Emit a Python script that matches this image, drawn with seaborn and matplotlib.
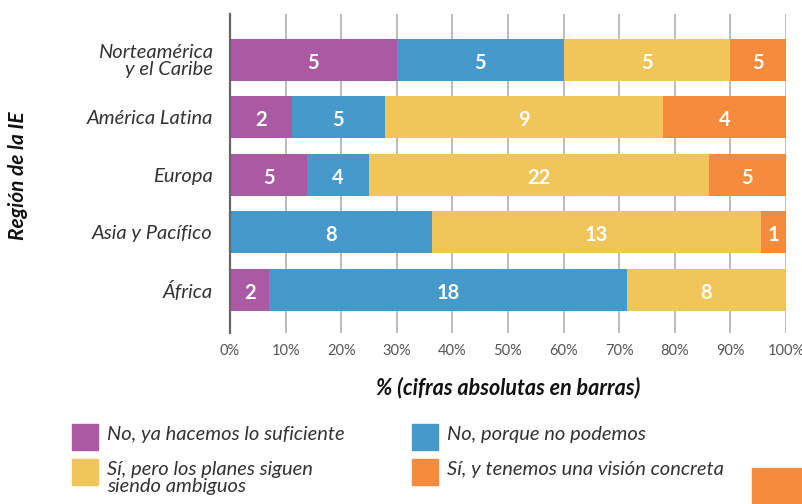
import numpy as np
import pandas as pd
import matplotlib.pyplot as plt
from matplotlib.patches import Rectangle
import seaborn as sns

# data (bar widths in %, labels are the printed counts)
regions = ["Norteamérica\ny el Caribe", "América Latina", "Europa", "Asia y Pacífico", "África"]
series = ["No, ya hacemos lo suficiente", "No, porque no podemos",
          "Sí, pero los planes siguen\nsiendo ambiguos", "Sí, y tenemos una visión concreta"]
pct_no_suficiente = [30.0, 11.1, 13.9, 0.0, 7.1]
pct_no_podemos = [30.0, 16.7, 11.1, 36.4, 64.3]
pct_si_ambiguos = [30.0, 50.0, 61.1, 59.1, 28.6]
pct_si_concreta = [10.0, 22.2, 13.9, 4.5, 0.0]
lbl_no_suficiente = ["5", "2", "5", "", "2"]
lbl_no_podemos = ["5", "5", "4", "8", "18"]
lbl_si_ambiguos = ["5", "9", "22", "13", "8"]
lbl_si_concreta = ["5", "4", "5", "1", ""]
colors = ["#AA5AA2", "#4599CB", "#F0C65A", "#F68B3E"]
xticks = [0, 10, 20, 30, 40, 50, 60, 70, 80, 90, 100]

sns.set_style("white")
plt.rcParams["font.family"] = ["Lato", "DejaVu Sans"]

pcts = [pct_no_suficiente, pct_no_podemos, pct_si_ambiguos, pct_si_concreta]
labels = [lbl_no_suficiente, lbl_no_podemos, lbl_si_ambiguos, lbl_si_concreta]
cum = np.cumsum(np.array(pcts), axis=0)

fig = plt.figure(figsize=(8.03, 5.04), dpi=100)
ax = fig.add_axes([230 / 803, 1 - 333 / 504, 556 / 803, 319 / 504])

# stacked bars: draw cumulative totals from the last series back to the first
for i in range(len(series) - 1, -1, -1):
    df = pd.DataFrame({"region": regions, "value": cum[i]})
    sns.barplot(data=df, x="value", y="region", color=colors[i], width=0.73,
                linewidth=0, saturation=1, ax=ax)

# count labels in the middle of each segment
for i in range(len(series)):
    left = cum[i] - np.array(pcts[i])
    for j, txt in enumerate(labels[i]):
        if txt:
            ax.text(left[j] + pcts[i][j] / 2, j + 0.05, txt, ha="center", va="center",
                    color="white", fontsize=14.5, fontweight="bold")

ax.set_xlim(0, 100)
ax.set_ylim(4.75, -0.8)
ax.set_xticks(xticks)
ax.set_xticklabels([f"{t}%" for t in xticks], fontsize=10.5, color="#555555")
ax.tick_params(axis="x", length=0, pad=8)
ax.tick_params(axis="y", length=9.5, width=1.3, color="#666666", pad=3)
for t in ax.get_yticklabels():
    t.set_fontstyle("italic")
    t.set_fontsize(14.5)
    t.set_color("#333333")
    t.set_linespacing(1.0)
ax.grid(axis="x", color="#aaaaaa", linewidth=1.1)
ax.set_axisbelow(True)
for s in ["top", "right", "bottom"]:
    ax.spines[s].set_visible(False)
ax.spines["left"].set_color("#666666")
ax.spines["left"].set_linewidth(1.6)
ax.set_xlabel("")
ax.set_ylabel("")

fig.text(508 / 803, 1 - 388 / 504, "% (cifras absolutas en barras)", ha="center", va="center",
         fontsize=15.5, fontweight="bold", fontstyle="italic", color="#111111")
fig.text(18 / 803, 1 - 176 / 504, "Región de la IE", ha="center", va="center", rotation=90,
         fontsize=15, fontweight="bold", fontstyle="italic", color="#111111")

# legend drawn by hand (2 x 2 grid)
leg_pos = [(72, 424), (412, 424), (72, 459), (412, 459)]
for k, (px, py) in enumerate(leg_pos):
    fig.patches.append(Rectangle((px / 803, 1 - (py + 26) / 504), 26 / 803, 26 / 504,
                                 transform=fig.transFigure, color=colors[k]))
    fig.text((px + 35) / 803, 1 - (py + 2) / 504, series[k], ha="left", va="top",
             fontsize=14.5, fontstyle="italic", color="#333333", linespacing=0.98)

# stray orange block at the bottom right corner of the reference
fig.patches.append(Rectangle((752 / 803, 0), 51 / 803, 36 / 504,
                             transform=fig.transFigure, color=colors[3]))

fig.savefig("out.png", dpi=100)
